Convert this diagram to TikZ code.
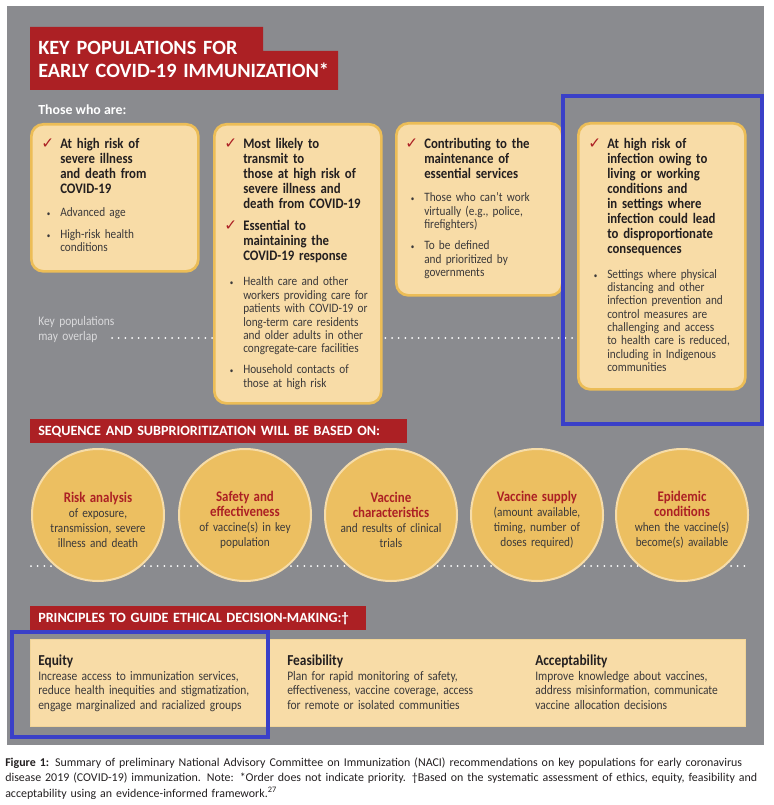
\documentclass[tikz,border=0pt]{standalone}
\usepackage{fontspec}
\setmainfont{Carlito}
\newfontfamily\narrowfont{Carlito}[FakeStretch=0.88]
\newfontfamily\symbolfont{DejaVu Sans}
\usepackage{xcolor}
\usepackage{tikz}
\usetikzlibrary{positioning}
\setlength{\parindent}{0pt}
\definecolor{clrBg}{HTML}{8A8B8F}
\definecolor{clrRed}{HTML}{AC2024}
\definecolor{clrCard}{HTML}{F8DCA7}
\definecolor{clrCardLine}{HTML}{ECBD57}
\definecolor{clrDisc}{HTML}{ECBF61}
\definecolor{clrDiscLine}{HTML}{F6DCA8}
\definecolor{clrPanelLine}{HTML}{F1D497}
\definecolor{clrInk}{HTML}{231F20}
\definecolor{clrBody}{HTML}{3B393A}
\definecolor{clrNote}{HTML}{DADADC}
\definecolor{clrMark}{HTML}{3A40C8}
\def\pxu{0.75pt}
\def\capw{571.5pt}
\newcommand\chk{\leavevmode\llap{\textcolor{clrRed}{\symbolfont\fontsize{11.5}{11.5}\selectfont ✓}\hspace{4.5pt}}}
\newcommand\bul{\leavevmode\llap{{\fontsize{6}{6}\selectfont •}\hspace{7.5pt}}}
\tikzset{
  card/.style={rectangle, rounded corners=9pt, line width=2pt,
    draw=clrCardLine, fill=clrCard, anchor=north west},
  chead/.style={anchor=base west, inner sep=0pt, text width=170*\pxu,
    align=left, text=clrInk,
    font=\narrowfont\fontsize{10.9}{11.25}\selectfont\bfseries},
  clist/.style={anchor=base west, inner sep=0pt, text width=170*\pxu,
    align=left, text=clrBody, font=\narrowfont\fontsize{9.6}{10}\selectfont},
  disc/.style={circle, minimum size=132*\pxu, inner sep=0pt,
    line width=1.5pt, draw=clrDiscLine, fill=clrDisc},
  disctxt/.style={inner sep=0pt, text width=126*\pxu, align=center,
    text=clrBody, font=\narrowfont\fontsize{9.6}{11.25}\selectfont},
  bar/.style={rectangle, fill=clrRed, text=white, anchor=north west,
    inner xsep=8*\pxu, inner ysep=0pt, align=left,
    font=\fontsize{10.6}{12}\selectfont\bfseries},
  panel/.style={rectangle, line width=0.8pt, draw=clrPanelLine,
    fill=clrCard, anchor=north west},
  phead/.style={anchor=base west, inner sep=0pt, text width=240*\pxu,
    align=left, text=clrInk,
    font=\narrowfont\fontsize{11.4}{11}\selectfont\bfseries},
  pbody/.style={anchor=base west, inner sep=0pt, text width=240*\pxu,
    align=left, text=clrBody, font=\narrowfont\fontsize{9.8}{10.9}\selectfont},
  dotline/.style={white, line width=1.5pt, line cap=round,
    dash pattern=on 0pt off 5pt},
  hilite/.style={draw=clrMark, line width=3pt},
}

\begin{document}
\begin{tikzpicture}[x=0.75pt, y=-0.75pt]
\useasboundingbox (0,0) rectangle (773,805);

% Spalten der Karten (linker Textrand) und Kopfzeile
\def\xA{60}
\def\xB{243}
\def\xC{424}
\def\xD{607}
\def\yhd{148.5}

\fill[clrBg] (7,6) rectangle (764,745);

% ── Titel ──────────────────────────────────────────────────────────────────
\fill[clrRed] (30,27) -| (263,51) -| (338,90) -| cycle;
\node[anchor=base west, inner sep=0pt, text width=320*\pxu, align=left,
  text=white, font=\fontsize{15.2}{17.25}\selectfont\bfseries] (title)
  at (38,55) {KEY POPULATIONS FOR\\EARLY COVID-19 IMMUNIZATION*};
\node[anchor=base west, inner sep=0pt, text=white,
  font=\fontsize{10.4}{11}\selectfont\bfseries] (who) at (38,115)
  {Those who are:};

% ── Ueberlappung (hinter den Karten) ───────────────────────────────────────
\node[anchor=base west, inner sep=0pt, text width=90*\pxu, align=left,
  text=clrNote, font=\narrowfont\fontsize{9.8}{11.25}\selectfont] (ovl)
  at (38,325) {Key populations\\may overlap};
\coordinate (ovA) at (112,338);
\coordinate (ovB) at (578,338);
\draw[dotline] (ovA) -- (ovB);

% ── Karten ─────────────────────────────────────────────────────────────────
\node[card, minimum width=167*\pxu, minimum height=147*\pxu] (c1) at (30,123) {};
\node[card, minimum width=167*\pxu, minimum height=279*\pxu] (c2) at (213,123) {};
\node[card, minimum width=166*\pxu, minimum height=172*\pxu] (c3) at (395,122) {};
\node[card, minimum width=167*\pxu, minimum height=266*\pxu] (c4) at (577,122) {};

\node[chead] (h1) at (\xA,\yhd) {\chk At high risk of\\severe illness\\and death from\\COVID-19};
\node[clist] (l1) at (\xA,217) {\bul Advanced age\\[5.8pt]\bul High-risk health\\conditions};

\node[chead] (h2a) at (\xB,\yhd) {\chk Most likely to\\transmit to\\those at high risk of\\severe illness and\\death from COVID-19};
\node[chead] (h2b) at (\xB,231) {\chk Essential to\\maintaining the\\COVID-19 response};
\node[clist] (l2) at (\xB,286) {\bul Health care and other\\workers providing care for\\patients with COVID-19 or\\long-term care residents\\and older adults in other\\congregate-care facilities\\[5.8pt]\bul Household contacts of\\those at high risk};

\node[chead] (h3) at (\xC,\yhd) {\chk Contributing to the\\maintenance of\\essential services};
\node[clist] (l3) at (\xC,202) {\bul Those who can’t work\\virtually (e.g., police,\\firefighters)\\[5.8pt]\bul To be defined\\and prioritized by\\governments};

\node[chead] (h4) at (\xD,\yhd) {\chk At high risk of\\infection owing to\\living or working\\conditions and\\in settings where\\infection could lead\\to disproportionate\\consequences};
\node[clist] (l4) at (\xD,278) {\bul Settings where physical\\distancing and other\\infection prevention and\\control measures are\\challenging and access\\to health care is reduced,\\including in Indigenous\\communities};

% ── Reihenfolge ────────────────────────────────────────────────────────────
\node[bar, minimum height=24*\pxu, text width=361*\pxu] (seqbar) at (30,419)
  {SEQUENCE AND SUBPRIORITIZATION WILL BE BASED ON:};
\coordinate (sqA) at (31,566);
\coordinate (sqB) at (745,566);
\draw[dotline] (sqA) -- (sqB);
\foreach \n/\cx/\ttl/\txt in {
  risk/98/{Risk analysis}/{of exposure,\\transmission, severe\\illness and death},
  safe/245/{Safety and\\effectiveness}/{of vaccine(s) in key\\population},
  chars/391/{Vaccine\\characteristics}/{and results of clinical\\trials},
  supply/537/{Vaccine supply}/{(amount available,\\timing, number of\\doses required)},
  epid/682/{Epidemic\\conditions}/{when the vaccine(s)\\become(s) available}}{
  \node[disc] (\n) at (\cx,515) {};
  \node[disctxt] (\n t) at ([yshift=-3.5pt]\n.center)
    {{\fontsize{11}{11.25}\selectfont\bfseries\color{clrRed}\ttl}\\\txt};
}

% ── Prinzipien ─────────────────────────────────────────────────────────────
\node[bar, minimum height=24*\pxu, text width=320*\pxu] (prinbar) at (30,606)
  {PRINCIPLES TO GUIDE ETHICAL DECISION-MAKING:†};
\node[panel, minimum width=715*\pxu, minimum height=87*\pxu] (pbox) at (30,639) {};
\foreach \n/\cx/\ttl/\txt in {
  equity/38/Equity/{Increase access to immunization services,\\reduce health inequities and stigmatization,\\engage marginalized and racialized groups},
  feas/287/Feasibility/{Plan for rapid monitoring of safety,\\effectiveness, vaccine coverage, access\\for remote or isolated communities},
  accept/535/Acceptability/{Improve knowledge about vaccines,\\address misinformation, communicate\\vaccine allocation decisions}}{
  \node[phead] (\n h) at (\cx,665) {\ttl};
  \node[pbody] (\n b) at (\cx,680) {\txt};
}

% ── Markierungen ───────────────────────────────────────────────────────────
\draw[hilite] (563,96) rectangle (762,424);
\draw[hilite] (12,632) rectangle (268,737);

% ── Bildunterschrift ───────────────────────────────────────────────────────
\node[anchor=base west, inner sep=0pt, text width=\capw, align=left,
  text=clrInk, font=\fontsize{8.95}{11.8}\selectfont] (cap) at (5,766)
  {\makebox[\capw][s]{\textbf{Figure 1:} Summary of preliminary National Advisory Committee on Immunization (NACI) recommendations on key populations for early coronavirus}\\
   \makebox[\capw][s]{disease 2019 (COVID-19) immunization. Note: *Order does not indicate priority. †Based on the systematic assessment of ethics, equity, feasibility and}\\
   acceptability using an evidence-informed framework.\textsuperscript{27}};

\end{tikzpicture}
\end{document}
